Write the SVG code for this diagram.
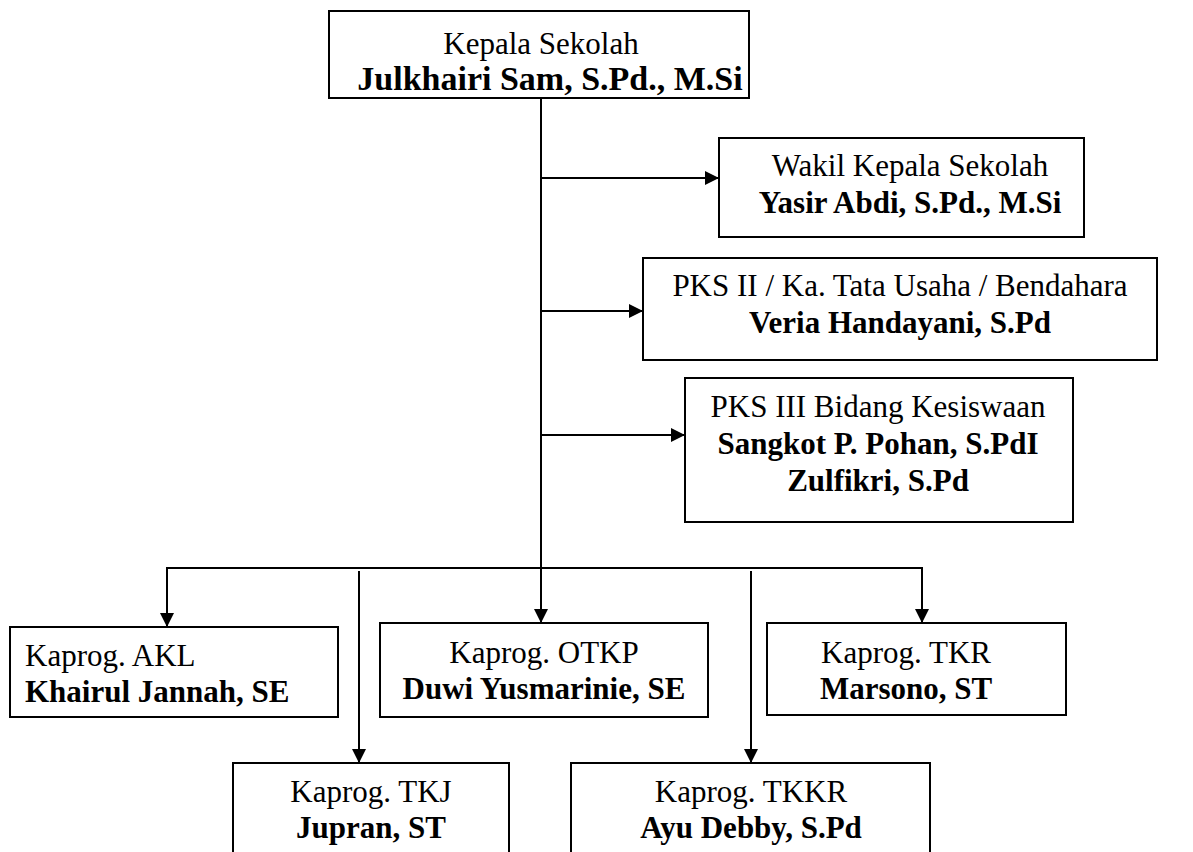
<svg xmlns="http://www.w3.org/2000/svg" width="1193" height="852" viewBox="0 0 1193 852">
<defs>
<marker id="ah" markerUnits="userSpaceOnUse" markerWidth="14" markerHeight="14" viewBox="0 0 14 14" refX="14" refY="7" orient="auto">
<path d="M0,0 L14,7 L0,14 Z" fill="#000"/>
</marker>
</defs>
<style>
.box{fill:#fff;stroke:#000;stroke-width:2}
.t{font-family:"Liberation Serif","Times New Roman",serif;font-size:31px;fill:#000;text-anchor:middle}
.b{font-weight:bold}
.l{text-anchor:start}
.c{fill:none;stroke:#000;stroke-width:2}
</style>
<rect width="1193" height="852" fill="#fff"/>
<g id="connectors">
<line class="c" x1="541" y1="98" x2="541" y2="568"/>
<line class="c" x1="541" y1="178" x2="719" y2="178" marker-end="url(#ah)"/>
<line class="c" x1="541" y1="311" x2="643" y2="311" marker-end="url(#ah)"/>
<line class="c" x1="541" y1="435" x2="685" y2="435" marker-end="url(#ah)"/>
<polyline class="c" points="167,627 167,568 922,568 922,623" marker-end="url(#ah)"/>
<line class="c" x1="167" y1="568" x2="167" y2="627" marker-end="url(#ah)"/>
<line class="c" x1="541" y1="568" x2="541" y2="623" marker-end="url(#ah)"/>
<line class="c" x1="359" y1="571" x2="359" y2="763" marker-end="url(#ah)"/>
<line class="c" x1="751" y1="571" x2="751" y2="763" marker-end="url(#ah)"/>
</g>
<g id="kepala">
<rect class="box" x="329" y="11" width="420" height="87"/>
<text class="t" x="541" y="54">Kepala Sekolah</text>
<text class="t b" x="550" y="90" style="font-size:34px">Julkhairi Sam, S.Pd., M.Si</text>
</g>
<g id="wakil">
<rect class="box" x="719" y="138" width="365" height="99"/>
<text class="t" x="910" y="176">Wakil Kepala Sekolah</text>
<text class="t b" x="910" y="213">Yasir Abdi, S.Pd., M.Si</text>
</g>
<g id="pks2">
<rect class="box" x="643" y="258" width="514" height="102"/>
<text class="t" x="900" y="296">PKS II / Ka. Tata Usaha / Bendahara</text>
<text class="t b" x="900" y="333">Veria Handayani, S.Pd</text>
</g>
<g id="pks3">
<rect class="box" x="685" y="378" width="388" height="144"/>
<text class="t" x="878" y="417">PKS III Bidang Kesiswaan</text>
<text class="t b" x="878" y="454">Sangkot P. Pohan, S.PdI</text>
<text class="t b" x="878" y="491">Zulfikri, S.Pd</text>
</g>
<g id="akl">
<rect class="box" x="10" y="627" width="328" height="90"/>
<text class="t l" x="25" y="666">Kaprog. AKL</text>
<text class="t b l" x="25" y="702">Khairul Jannah, SE</text>
</g>
<g id="otkp">
<rect class="box" x="380" y="623" width="328" height="94"/>
<text class="t" x="544" y="663">Kaprog. OTKP</text>
<text class="t b" x="544" y="699">Duwi Yusmarinie, SE</text>
</g>
<g id="tkr">
<rect class="box" x="767" y="623" width="299" height="92"/>
<text class="t" x="906" y="663">Kaprog. TKR</text>
<text class="t b" x="906" y="699">Marsono, ST</text>
</g>
<g id="tkj">
<rect class="box" x="233" y="763" width="276" height="100"/>
<text class="t" x="371" y="802">Kaprog. TKJ</text>
<text class="t b" x="371" y="838">Jupran, ST</text>
</g>
<g id="tkkr">
<rect class="box" x="571" y="763" width="359" height="100"/>
<text class="t" x="751" y="802">Kaprog. TKKR</text>
<text class="t b" x="751" y="838">Ayu Debby, S.Pd</text>
</g>
</svg>
